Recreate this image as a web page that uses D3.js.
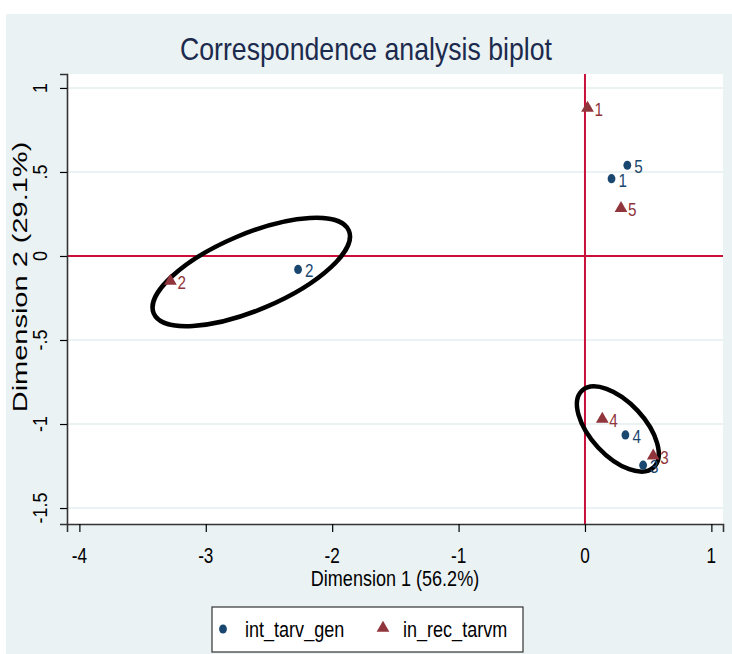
<!DOCTYPE html>
<html>
<head>
<meta charset="utf-8">
<script src="https://cdn.jsdelivr.net/npm/d3@7/dist/d3.min.js"></script>
<style>
  html, body { margin: 0; padding: 0; background: #fff; }
  text { font-family: Arial, "Liberation Sans", sans-serif; }
</style>
</head>
<body>
<div id="chart"></div>
<script>
// données
const categories = ["1", "2", "3", "4", "5"];
const genX = [0.21, -2.27, 0.46, 0.32, 0.335];
const genY = [0.46, -0.08, -1.245, -1.065, 0.54];
const recX = [0.02, -3.28, 0.54, 0.137, 0.285];
const recY = [0.88, -0.149, -1.19, -0.97, 0.284];
const xTicks = [-4, -3, -2, -1, 0, 1];
const xTickLabels = ["-4", "-3", "-2", "-1", "0", "1"];
const yTicks = [-1.5, -1, -0.5, 0, 0.5, 1];
const yTickLabels = ["-1.5", "-1", "-.5", "0", ".5", "1"];
const seriesNames = ["int_tarv_gen", "in_rec_tarvm"];
// ellipses d'annotation (centre en unités des données)
const ellipseCx = [-2.64, 0.26];
const ellipseCy = [-0.095, -1.03];

let width = 732;
let height = 654;

const blue = "#1a476f";
const maroon = "#90353b";
const refRed = "#c8103a";
const bg = "#eaf2f3";

let svg = d3
  .select("#chart")
  .append("svg")
  .attr("width", width)
  .attr("height", height);

// fond de la zone graphique
svg.append("rect")
  .attr("x", 6).attr("y", 14)
  .attr("width", width - 6).attr("height", height - 14)
  .style("fill", bg);

let plot = { left: 67, right: 723, top: 74, bottom: 524 };

let x = d3.scaleLinear().domain([-4.098, 1.092]).range([plot.left, plot.right]);
let y = d3.scaleLinear().domain([-1.595, 1.083]).range([plot.bottom, plot.top]);

// texte étiré / resserré (sx le long du texte, sy en travers)
function label(g, txt, px, py, size, sx, opts = {}) {
  let sy = opts.sy || 1;
  let t = g.append("text")
    .attr("x", 0).attr("y", 0)
    .attr("transform", "translate(" + px + "," + py + ")" + (opts.rotate ? " rotate(" + opts.rotate + ")" : "") + " scale(" + sx + "," + sy + ")")
    .style("font-size", size + "px")
    .style("fill", opts.fill || "#000")
    .style("text-anchor", opts.anchor || "start")
    .text(txt);
  return t;
}

svg.append("rect")
  .attr("x", plot.left).attr("y", plot.top)
  .attr("width", plot.right - plot.left).attr("height", plot.bottom - plot.top)
  .style("fill", "#fff");

// lignes de grille
svg.append("g")
  .selectAll("line")
  .data(yTicks)
  .join("line")
  .attr("x1", plot.left).attr("x2", plot.right)
  .attr("y1", d => y(d)).attr("y2", d => y(d))
  .style("stroke", bg)
  .style("stroke-width", 2);

// lignes de référence
svg.append("line")
  .attr("x1", x(0)).attr("x2", x(0))
  .attr("y1", plot.top).attr("y2", plot.bottom)
  .style("stroke", refRed).style("stroke-width", 2);
svg.append("line")
  .attr("x1", plot.left).attr("x2", plot.right)
  .attr("y1", y(0)).attr("y2", y(0))
  .style("stroke", refRed).style("stroke-width", 2);

// axes
let xAxis = svg.append("g")
  .attr("transform", "translate(0," + plot.bottom + ")")
  .call(d3.axisBottom(x).tickValues(xTicks).tickSize(8).tickFormat(""));
let yAxis = svg.append("g")
  .attr("transform", "translate(" + plot.left + ",0)")
  .call(d3.axisLeft(y).tickValues(yTicks).tickSize(7).tickFormat(""));
[xAxis, yAxis].forEach(a => {
  a.select(".domain").style("stroke", "#333").style("stroke-width", 1.6);
  a.selectAll(".tick line").style("stroke", "#000").style("stroke-width", 1.2);
});

let labels = svg.append("g");
xTicks.forEach((v, i) => label(labels, xTickLabels[i], x(v), 563, 22, 0.78, { anchor: "middle" }));
yTicks.forEach((v, i) => label(labels, yTickLabels[i], 47, y(v), 21, 0.85, { anchor: "middle", rotate: -90 }));

label(labels, "Dimension 1 (56.2%)", (plot.left + plot.right) / 2, 586, 22, 0.82, { anchor: "middle" });
label(labels, "Dimension 2 (29.1%)", 27, 277, 29, 1, { anchor: "middle", rotate: -90, sy: 0.72 });

label(labels, "Correspondence analysis biplot", width / 2, 60, 31, 0.86, { anchor: "middle", fill: "#1c2a4e" });

// ellipses
let ellipses = [
  { rx: 106, ry: 38, angle: -23 },
  { rx: 52.5, ry: 27, angle: 47 }
];
svg.append("g")
  .selectAll("ellipse")
  .data(ellipses)
  .join("ellipse")
  .attr("cx", 0).attr("cy", 0)
  .attr("rx", d => d.rx).attr("ry", d => d.ry)
  .attr("transform", (d, i) => "translate(" + x(ellipseCx[i]) + "," + y(ellipseCy[i]) + ") rotate(" + d.angle + ")")
  .style("fill", "none")
  .style("stroke", "#000")
  .style("stroke-width", 4.5);

// points
let tri = d3.symbol().type(d3.symbolTriangle).size(70);
let pts = svg.append("g");
categories.forEach((c, i) => {
  pts.append("ellipse")
    .attr("cx", x(genX[i])).attr("cy", y(genY[i]))
    .attr("rx", 3.9).attr("ry", 4.6)
    .style("fill", blue);
  label(pts, c, x(genX[i]) + 7, y(genY[i]) + 8, 19, 0.8, { fill: blue });
});
categories.forEach((c, i) => {
  pts.append("path")
    .attr("d", tri())
    .attr("transform", "translate(" + x(recX[i]) + "," + y(recY[i]) + ")")
    .style("fill", maroon);
  label(pts, c, x(recX[i]) + 7, y(recY[i]) + 8, 19, 0.8, { fill: maroon });
});

// légende
let leg = svg.append("g");
leg.append("rect")
  .attr("x", 212).attr("y", 607)
  .attr("width", 311).attr("height", 45)
  .style("fill", "#fff")
  .style("stroke", "#333")
  .style("stroke-width", 1.2);
leg.append("ellipse")
  .attr("cx", 223).attr("cy", 629)
  .attr("rx", 3.9).attr("ry", 4.6)
  .style("fill", blue);
label(leg, seriesNames[0], 245, 637, 22, 0.82);
leg.append("path")
  .attr("d", tri())
  .attr("transform", "translate(383,628)")
  .style("fill", maroon);
label(leg, seriesNames[1], 403, 637, 22, 0.82);
</script>
</body>
</html>
